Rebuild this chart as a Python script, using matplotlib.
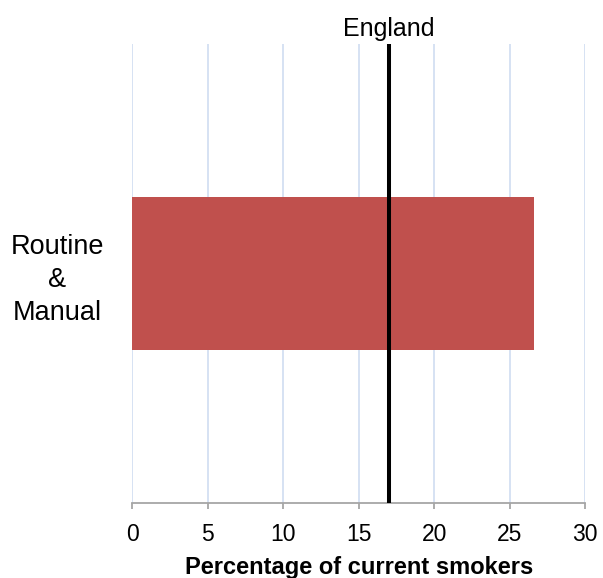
import matplotlib
matplotlib.use("Agg")
import matplotlib.pyplot as plt

plt.rcParams['font.family'] = ['Liberation Sans', 'DejaVu Sans']

# data
categories = ['Routine\n&\nManual']
smokers_pct = [26.6]
england_pct = 17.0
x_ticks = [0, 5, 10, 15, 20, 25, 30]

fig = plt.figure(figsize=(6.03, 5.78), dpi=100)
ax = fig.add_axes([0.2194, 0.1292, 0.7507, 0.7947])

ax.barh(range(len(categories)), smokers_pct, height=1/3, color='#C0504D', zorder=2)
ax.axvline(england_pct, color='black', lw=2.9, zorder=3)
ax.text(england_pct, 1.018, 'England', transform=ax.get_xaxis_transform(),
        ha='center', va='baseline', fontsize=18)

ax.set_xlim(0, 30)
ax.set_ylim(-0.5, 0.5)
ax.set_xticks(x_ticks)
ax.set_xticklabels([str(t) for t in x_ticks], fontsize=16.5)
ax.set_yticks(range(len(categories)))
ax.set_yticklabels(categories, fontsize=19.5, ha='center', linespacing=1.35)

ax.grid(axis='x', color='#D6E2F3', lw=1.4, zorder=0)
ax.set_axisbelow(True)
for s in ['top', 'right', 'left']:
    ax.spines[s].set_visible(False)
ax.spines['bottom'].set_color('#A6A6A6')
ax.spines['bottom'].set_linewidth(1.3)
ax.tick_params(axis='x', direction='out', length=4.5, width=1.3, color='#A6A6A6', pad=10)
ax.tick_params(axis='y', length=0, pad=54)

ax.set_xlabel('Percentage of current smokers', fontsize=17, fontweight='bold', labelpad=7)

fig.savefig('out.png', dpi=100)
